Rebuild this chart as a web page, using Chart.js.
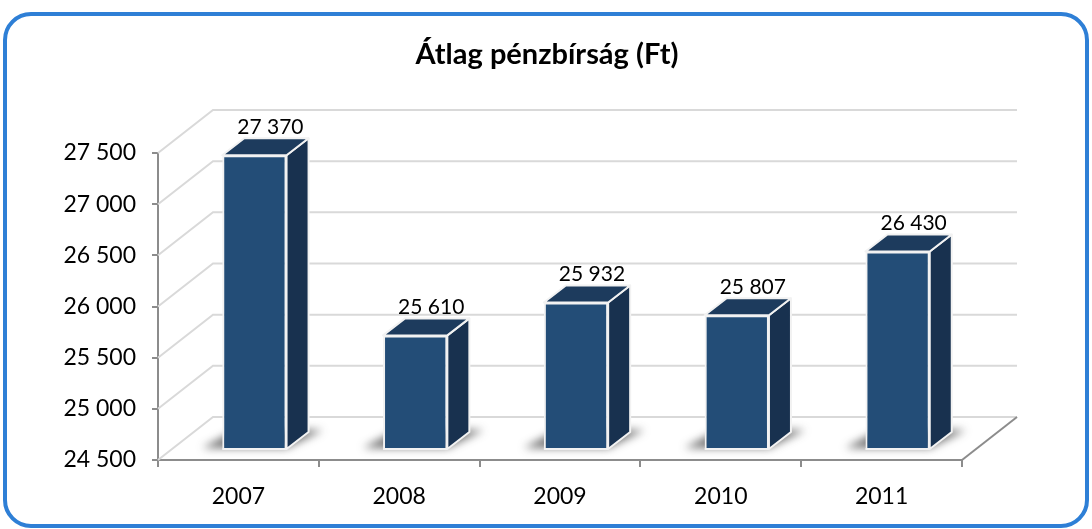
<!DOCTYPE html>
<html>
<head>
<meta charset="utf-8">
<script src="https://cdn.jsdelivr.net/npm/chart.js@4"></script>
<style>
  html, body { margin: 0; padding: 0; background: #fff; }
  #wrap { width: 1092px; height: 529px; position: relative; }
</style>
</head>
<body>
<div id="wrap"><canvas id="fineChart" width="1092" height="529"></canvas></div>
<script>
// adatok
const years = ["2007", "2008", "2009", "2010", "2011"];
const avgFine = [27370, 25610, 25932, 25807, 26430];
const yTicks = [24500, 25000, 25500, 26000, 26500, 27000, 27500];
const chartTitle = "Átlag pénzbírság (Ft)";

const fmt = (v) => String(v).replace(/\B(?=(\d{3})+(?!\d))/g, " ");

// 3D mélység (teljes fal és oszlop)
const WALL = { dx: 55, dy: -43 };
const BAR_FRONT = { dx: 16, dy: -11 };
const BAR_DEPTH = { dx: 22, dy: -17 };

const threeD = {
  id: "threeD",
  beforeDraw(chart) {
    const ctx = chart.ctx;
    ctx.save();
    // keret
    ctx.strokeStyle = "#2e7fd6";
    ctx.lineWidth = 4;
    ctx.beginPath();
    ctx.roundRect(5, 14, 1082, 512, 26);
    ctx.stroke();
    // cím
    ctx.fillStyle = "#000";
    ctx.font = "bold 29px Lato";
    ctx.textAlign = "center";
    ctx.textBaseline = "middle";
    ctx.fillText(chartTitle, 547, 55);
    ctx.restore();
  },
  beforeDatasetsDraw(chart) {
    const { ctx, chartArea, scales } = chart;
    const y = scales.y;
    const left = chartArea.left, right = chartArea.right;
    ctx.save();
    ctx.strokeStyle = "#d9d9d9";
    ctx.lineWidth = 2;
    yTicks.forEach((t) => {
      const py = y.getPixelForValue(t);
      ctx.beginPath();
      ctx.moveTo(left, py);
      ctx.lineTo(left + WALL.dx, py + WALL.dy);
      ctx.lineTo(right + WALL.dx, py + WALL.dy);
      ctx.stroke();
    });
    // padló jobb széle
    const py0 = y.getPixelForValue(yTicks[0]);
    ctx.strokeStyle = "#8c8c8c";
    ctx.beginPath();
    ctx.moveTo(right, py0);
    ctx.lineTo(right + WALL.dx, py0 + WALL.dy);
    ctx.stroke();

    // árnyékok
    const meta = chart.getDatasetMeta(0);
    ctx.filter = "blur(4px)";
    ctx.fillStyle = "rgba(40,40,40,0.65)";
    meta.data.forEach((bar) => {
      const l = bar.x - bar.width / 2 + BAR_FRONT.dx;
      const r = bar.x + bar.width / 2 + BAR_FRONT.dx;
      const b = py0 + BAR_FRONT.dy;
      ctx.beginPath();
      ctx.moveTo(l - 20, b - 1);
      ctx.lineTo(r, b - 1);
      ctx.lineTo(r + BAR_DEPTH.dx + 14, b + BAR_DEPTH.dy - 2);
      ctx.lineTo(l + BAR_DEPTH.dx - 8, b + BAR_DEPTH.dy - 2);
      ctx.closePath();
      ctx.fill();
    });
    ctx.restore();

    ctx.save();
    ctx.translate(BAR_FRONT.dx, BAR_FRONT.dy);
  },
  afterDatasetsDraw(chart) {
    const ctx = chart.ctx;
    ctx.restore();
    const y = chart.scales.y;
    const py0 = y.getPixelForValue(yTicks[0]);
    const meta = chart.getDatasetMeta(0);
    ctx.save();
    ctx.lineJoin = "round";
    meta.data.forEach((bar, i) => {
      const l = bar.x - bar.width / 2 + BAR_FRONT.dx;
      const r = bar.x + bar.width / 2 + BAR_FRONT.dx;
      const t = bar.y + BAR_FRONT.dy;
      const b = py0 + BAR_FRONT.dy;
      const dx = BAR_DEPTH.dx, dy = BAR_DEPTH.dy;
      ctx.strokeStyle = "#f2f2f2";
      ctx.lineWidth = 2;
      // elő lap alsó széle
      ctx.beginPath();
      ctx.moveTo(l, b);
      ctx.lineTo(r, b);
      ctx.stroke();
      // oldal
      ctx.fillStyle = "#18314f";
      ctx.beginPath();
      ctx.moveTo(r, t);
      ctx.lineTo(r + dx, t + dy);
      ctx.lineTo(r + dx, b + dy);
      ctx.lineTo(r, b);
      ctx.closePath();
      ctx.fill();
      ctx.stroke();
      // tető
      ctx.fillStyle = "#1d3b5d";
      ctx.beginPath();
      ctx.moveTo(l, t);
      ctx.lineTo(l + dx, t + dy);
      ctx.lineTo(r + dx, t + dy);
      ctx.lineTo(r, t);
      ctx.closePath();
      ctx.fill();
      ctx.stroke();
      // érték címke
      ctx.fillStyle = "#000";
      ctx.font = "21px Lato";
      ctx.textAlign = "center";
      ctx.textBaseline = "middle";
      ctx.fillText(fmt(avgFine[i]), (l + r) / 2 + 16, t + dy - 11);
    });
    ctx.restore();
  }
};

new Chart(document.getElementById("fineChart"), {
  type: "bar",
  data: {
    labels: years,
    datasets: [{
      label: chartTitle,
      data: avgFine,
      base: 24500,
      backgroundColor: "#234d77",
      borderColor: "#f2f2f2",
      borderWidth: 2,
      barPercentage: 0.4,
      categoryPercentage: 1
    }]
  },
  options: {
    responsive: false,
    animation: false,
    layout: { padding: { left: 0, right: 130, top: 153, bottom: 0 } },
    plugins: {
      legend: { display: false },
      tooltip: { enabled: false },
      title: { display: false }
    },
    scales: {
      x: {
        grid: { offset: true, drawOnChartArea: false, drawTicks: true, tickLength: 7, color: "#8c8c8c", lineWidth: 2 },
        border: { display: true, color: "#8c8c8c", width: 2 },
        ticks: { color: "#000", font: { family: "Lato", size: 23 }, padding: 16 },
        afterFit(scale) { scale.height = 69; }
      },
      y: {
        min: 24500,
        max: 27500,
        afterBuildTicks(scale) { scale.ticks = yTicks.map((v) => ({ value: v })); },
        grid: { drawOnChartArea: false, drawTicks: true, tickLength: 6, color: "#8c8c8c", lineWidth: 2 },
        border: { display: true, color: "#8c8c8c", width: 2 },
        ticks: { color: "#000", font: { family: "Lato", size: 23 }, padding: 16, callback: (v) => fmt(v) },
        afterFit(scale) { scale.width = 158; }
      }
    }
  },
  plugins: [threeD]
});
</script>
</body>
</html>
